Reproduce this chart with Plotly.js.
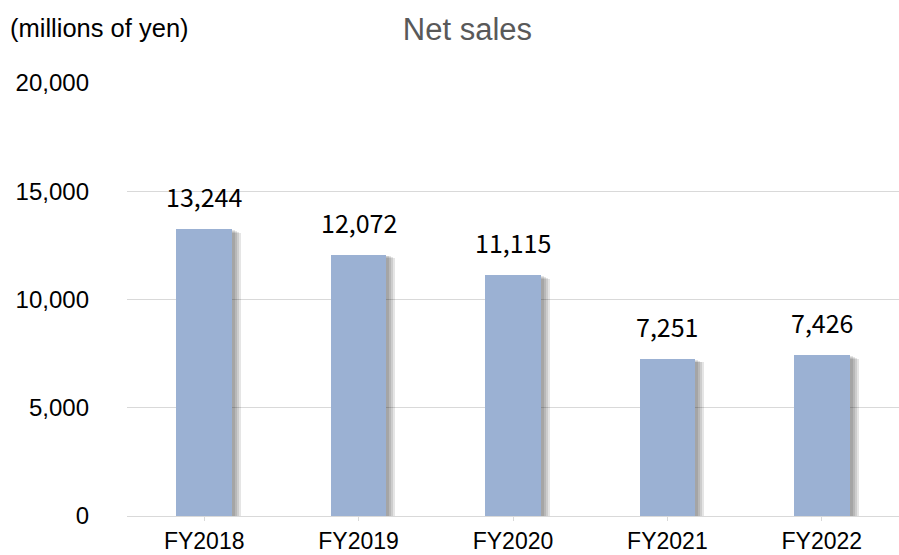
<!DOCTYPE html>
<html>
<head>
<meta charset="utf-8">
<script src="https://cdn.plot.ly/plotly-3.0.1.min.js"></script>
<style>html,body{margin:0;padding:0;background:#fff;}#chart{width:899px;height:555px;}</style>
</head>
<body>
<div id="chart"></div>
<script>
const categories = ["FY2018", "FY2019", "FY2020", "FY2021", "FY2022"];
const netSales = [13244, 12072, 11115, 7251, 7426];
const yTickVals = [0, 5000, 10000, 15000, 20000];
const yTickText = ["0", "5,000", "10,000", "15,000", "20,000"];

const fmt = v => v.toLocaleString("en-US");
const idx = categories.map((c, i) => i);

// soft drop shadow built from layered translucent bars (px -> category units)
const PX = 1 / 154.4;
const barHalf = 0.18;
const shadowLayers = [9, 7, 5, 3].map((ext, k) => ({
  type: "bar", x: idx, y: netSales.map(v => v - 40 * (4 - k)),
  width: 2 * barHalf + ext * PX, offset: -barHalf,
  marker: {color: "rgba(0,0,0,0.10)", line: {width: 0}},
  hoverinfo: "skip", showlegend: false
}));
const bars = {
  type: "bar", x: idx, y: netSales,
  width: 2 * barHalf, offset: -barHalf,
  marker: {color: "#9BB1D3", line: {width: 0}},
  showlegend: false
};

const annotations = netSales.map((v, i) => ({
  x: i, y: v, xref: "x", yref: "y", text: fmt(v),
  showarrow: false, yanchor: "bottom", yshift: 13,
  font: {family: "Noto Sans CJK JP", size: 25, color: "#000"}
}));
annotations.push({
  xref: "paper", yref: "paper", x: -0.154, y: 1.127, xanchor: "left", yanchor: "middle",
  text: "(millions of yen)", showarrow: false,
  font: {family: "Liberation Sans, Arial", size: 25.5, color: "#000"}
});

const layout = {
  width: 899, height: 555,
  margin: {l: 127, r: 0, t: 83, b: 39},
  paper_bgcolor: "#fff", plot_bgcolor: "#fff",
  title: {text: "Net sales", x: 0.520, xanchor: "center", y: 0.9477, yanchor: "middle",
          font: {family: "Liberation Sans, Arial", size: 31, color: "#595959"}},
  barmode: "overlay",
  xaxis: {
    tickmode: "array", tickvals: idx, ticktext: categories,
    range: [-0.5, 4.5], showgrid: false, zeroline: false,
    showline: true, linecolor: "#d9d9d9", linewidth: 1,
    ticks: "outside", tickson: "boundaries", ticklen: 4, tickcolor: "#d9d9d9",
    tickfont: {family: "Liberation Sans, Arial", size: 23, color: "#000"},
    fixedrange: true
  },
  yaxis: {
    range: [0, 20000], tickmode: "array", tickvals: yTickVals, ticktext: yTickText,
    showgrid: true, gridcolor: "#d9d9d9", gridwidth: 1, zeroline: false,
    showline: false, ticks: "", ticklabelstandoff: 37,
    tickfont: {family: "Liberation Sans, Arial", size: 24, color: "#000"},
    fixedrange: true
  },
  annotations: annotations,
  bargap: 0
};

Plotly.newPlot("chart", shadowLayers.concat([bars]), layout, {displayModeBar: false, staticPlot: true});
</script>
</body>
</html>
